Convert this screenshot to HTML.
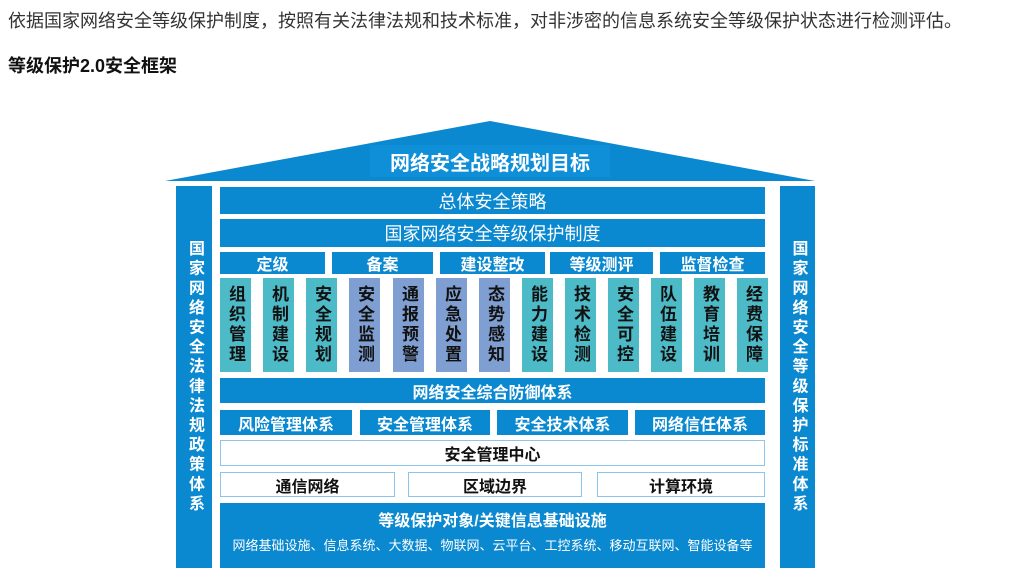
<!DOCTYPE html><html><head><meta charset="utf-8"><style>
body{margin:0;width:1017px;height:581px;background:#fff;position:relative;overflow:hidden;font-family:"Liberation Sans","Noto Sans CJK SC",sans-serif}
.a{position:absolute;box-sizing:border-box;display:flex;align-items:center;justify-content:center;text-align:center}
.b{background:#0a88d0;color:#fff}
.w{background:#fff;border:1px solid #8cc4ec;color:#111;font-weight:bold;font-size:16px}
.v{writing-mode:vertical-rl;text-orientation:upright;font-size:17px;font-weight:bold;line-height:1;color:#111;letter-spacing:3px}
.p{writing-mode:vertical-rl;text-orientation:upright;font-size:16px;font-weight:bold;color:#fff;letter-spacing:3.6px}
</style></head><body>
<div style="position:absolute;left:8px;top:7px;font-size:18px;color:#333">依据国家网络安全等级保护制度，按照有关法律法规和技术标准，对非涉密的信息系统安全等级保护状态进行检测评估。</div>
<div style="position:absolute;left:8px;top:52px;font-size:18px;font-weight:bold;color:#111">等级保护2.0安全框架</div>
<svg style="position:absolute;left:0;top:0" width="1017" height="581"><polygon points="165,181 490,121 815,181" fill="#0a88d0"/></svg>
<div class="a b" style="left:370px;top:145px;width:240px;height:32px;font-size:20px;font-weight:bold;background:#0f8fd8">网络安全战略规划目标</div>
<div class="a b p" style="left:176px;top:186px;width:36px;height:382px">国家网络安全法律法规政策体系</div>
<div class="a b p" style="left:780px;top:186px;width:35px;height:382px">国家网络安全等级保护标准体系</div>
<div class="a b" style="left:220px;top:187px;width:545px;height:27px;font-size:18px">总体安全策略</div>
<div class="a b" style="left:220px;top:219px;width:545px;height:28px;font-size:18px">国家网络安全等级保护制度</div>
<div class="a b" style="left:220px;top:252px;width:105px;height:22px;font-size:16px;font-weight:bold">定级</div>
<div class="a b" style="left:332px;top:252px;width:101px;height:22px;font-size:16px;font-weight:bold">备案</div>
<div class="a b" style="left:440px;top:252px;width:105px;height:22px;font-size:16px;font-weight:bold">建设整改</div>
<div class="a b" style="left:550px;top:252px;width:103px;height:22px;font-size:16px;font-weight:bold">等级测评</div>
<div class="a b" style="left:660px;top:252px;width:105px;height:22px;font-size:16px;font-weight:bold">监督检查</div>
<div class="a v" style="left:220px;top:278px;width:31px;height:94px;background:#4dbac8">组织管理</div>
<div class="a v" style="left:263px;top:278px;width:31px;height:94px;background:#4dbac8">机制建设</div>
<div class="a v" style="left:306px;top:278px;width:31px;height:94px;background:#4dbac8">安全规划</div>
<div class="a v" style="left:349px;top:278px;width:31px;height:94px;background:#7f9fd2">安全监测</div>
<div class="a v" style="left:393px;top:278px;width:31px;height:94px;background:#7f9fd2">通报预警</div>
<div class="a v" style="left:436px;top:278px;width:31px;height:94px;background:#7f9fd2">应急处置</div>
<div class="a v" style="left:479px;top:278px;width:31px;height:94px;background:#7f9fd2">态势感知</div>
<div class="a v" style="left:522px;top:278px;width:31px;height:94px;background:#4dbac8">能力建设</div>
<div class="a v" style="left:565px;top:278px;width:31px;height:94px;background:#4dbac8">技术检测</div>
<div class="a v" style="left:608px;top:278px;width:31px;height:94px;background:#4dbac8">安全可控</div>
<div class="a v" style="left:651px;top:278px;width:31px;height:94px;background:#4dbac8">队伍建设</div>
<div class="a v" style="left:694px;top:278px;width:31px;height:94px;background:#4dbac8">教育培训</div>
<div class="a v" style="left:737px;top:278px;width:31px;height:94px;background:#4dbac8">经费保障</div>
<div class="a b" style="left:220px;top:378px;width:545px;height:25px;font-size:16px;font-weight:bold">网络安全综合防御体系</div>
<div class="a b" style="left:220px;top:410px;width:132px;height:25px;font-size:16px;font-weight:bold">风险管理体系</div>
<div class="a b" style="left:360px;top:410px;width:130px;height:25px;font-size:16px;font-weight:bold">安全管理体系</div>
<div class="a b" style="left:497px;top:410px;width:131px;height:25px;font-size:16px;font-weight:bold">安全技术体系</div>
<div class="a b" style="left:635px;top:410px;width:130px;height:25px;font-size:16px;font-weight:bold">网络信任体系</div>
<div class="a w" style="left:220px;top:440px;width:545px;height:26px">安全管理中心</div>
<div class="a w" style="left:220px;top:472px;width:175px;height:25px">通信网络</div>
<div class="a w" style="left:408px;top:472px;width:174px;height:25px">区域边界</div>
<div class="a w" style="left:597px;top:472px;width:168px;height:25px">计算环境</div>
<div class="b" style="position:absolute;left:220px;top:503px;width:545px;height:65px;text-align:center">
<div style="font-size:16px;font-weight:bold;margin-top:4px">等级保护对象/关键信息基础设施</div>
<div style="font-size:13px;margin-top:4px">网络基础设施、信息系统、大数据、物联网、云平台、工控系统、移动互联网、智能设备等</div></div>
</body></html>
